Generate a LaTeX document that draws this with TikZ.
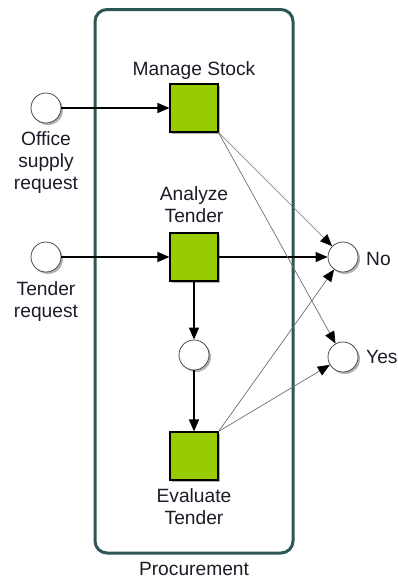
\documentclass[tikz,border=0pt]{standalone}
\usepackage{fontspec}
\setmainfont{Liberation Sans}
\usetikzlibrary{arrows.meta,shadows}
\definecolor{actfill}{HTML}{99CC00}
\definecolor{lanecol}{HTML}{2F5656}
\definecolor{thinline}{HTML}{707070}
\definecolor{txtcol}{HTML}{1C1C28}
\begin{document}
\begin{tikzpicture}[x=1pt,y=-1pt,
  every node/.style={font=\fontsize{19.2}{22}\selectfont, text=txtcol},
  task/.style={draw=black, line width=1.1pt, fill=actfill, minimum size=48pt, inner sep=0pt,
    drop shadow={shadow xshift=2pt, shadow yshift=-2pt, opacity=0.3, fill=black}},
  cond/.style={circle, draw=black!70, line width=0.8pt, fill=white, minimum size=30pt, inner sep=0pt,
    drop shadow={shadow xshift=2pt, shadow yshift=-2pt, opacity=0.3, fill=black}},
  lbl/.style={align=center, inner sep=0pt},
  flow/.style={draw=black, line width=1.3pt, -{Triangle[length=12pt, width=10pt]}},
  outflow/.style={draw=thinline, line width=0.7pt, -{Triangle[length=12pt, width=10pt, color=black]}}
]
  % canvas
  \useasboundingbox (0,0) rectangle (398,579);
  \fill[white] (0,0) rectangle (398,579);

  % swimlane
  \draw[lanecol, line width=3pt, rounded corners=12pt] (95,9.5) rectangle (293,553);
  \node[lbl, anchor=base] (lane) at (194,575) {Procurement};

  % activities
  \node[task] (ms) at (194,108) {};
  \node[task] (at) at (194,257) {};
  \node[task] (et) at (194,456) {};
  \node[lbl, anchor=base] (lms) at (194,75) {Manage Stock};
  \node[lbl, anchor=north] (lat) at (194,186) {Analyze\\Tender};
  \node[lbl, anchor=north] (let) at (194,488) {Evaluate\\Tender};

  % conditions
  \node[cond] (osr) at (46,108) {};
  \node[cond] (tr)  at (46,257) {};
  \node[cond] (mid) at (194,355) {};
  \node[cond] (no)  at (343,257) {};
  \node[cond] (yes) at (343,357) {};
  \node[lbl, anchor=north] (losr) at (46,131) {Office\\supply\\request};
  \node[lbl, anchor=north] (ltr) at (46,281) {Tender\\request};
  \node[lbl, anchor=base west] (lno) at (366,265) {No};
  \node[lbl, anchor=base west] (lyes) at (366,363) {Yes};

  % arcs
  \draw[flow] (osr) -- (ms);
  \draw[flow] (tr) -- (at);
  \draw[flow] (at) -- (no);
  \draw[flow] (at) -- (mid);
  \draw[flow] (mid) -- (et);
  \draw[outflow] (ms.south east) -- (no);
  \draw[outflow] (ms.south east) -- (yes);
  \draw[outflow] (et.north east) -- (no);
  \draw[outflow] (et.north east) -- (yes);
\end{tikzpicture}
\end{document}
